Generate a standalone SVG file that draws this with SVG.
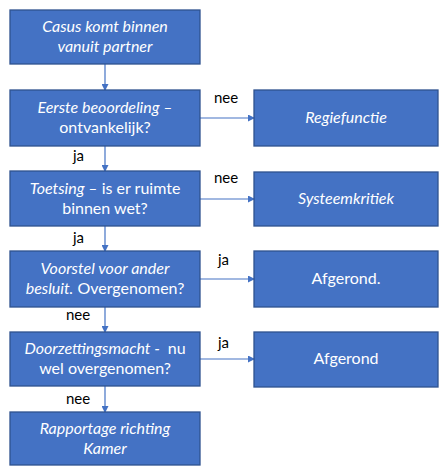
<svg xmlns="http://www.w3.org/2000/svg" width="440" height="466" viewBox="0 0 440 466">
<style>
.box{fill:#4472C4;stroke:#2F528F;stroke-width:1.3}
.t{fill:#fff;font-family:Lato,"Liberation Sans",sans-serif;font-size:16px;text-anchor:middle;white-space:pre}
.i{font-style:italic}
.lbl{fill:#000;font-family:Lato,"Liberation Sans",sans-serif;font-size:15px}
.c{stroke:#4472C4;stroke-width:1.2;fill:none}
</style>
<defs>
<marker id="ah" markerWidth="7" markerHeight="7" refX="6" refY="3.5" orient="auto" markerUnits="userSpaceOnUse">
<path d="M0,0 L7,3.5 L0,7 Z" fill="#4472C4"/>
</marker>
</defs>
<g id="connectors">
<line class="c" x1="105" y1="64" x2="105" y2="90" marker-end="url(#ah)"/>
<line class="c" x1="105" y1="146" x2="105" y2="171" marker-end="url(#ah)"/>
<line class="c" x1="105" y1="226" x2="105" y2="251" marker-end="url(#ah)"/>
<line class="c" x1="105" y1="307" x2="105" y2="332" marker-end="url(#ah)"/>
<line class="c" x1="105" y1="386" x2="105" y2="412" marker-end="url(#ah)"/>
<line class="c" x1="200" y1="118" x2="254" y2="118" marker-end="url(#ah)"/>
<line class="c" x1="200" y1="199" x2="254" y2="199" marker-end="url(#ah)"/>
<line class="c" x1="200" y1="279" x2="254" y2="279" marker-end="url(#ah)"/>
<line class="c" x1="200" y1="359" x2="254" y2="359" marker-end="url(#ah)"/>
<text class="lbl" x="214" y="103">nee</text>
<text class="lbl" x="214" y="183">nee</text>
<text class="lbl" x="218" y="265">ja</text>
<text class="lbl" x="218" y="348">ja</text>
<text class="lbl" x="73" y="161">ja</text>
<text class="lbl" x="73" y="243">ja</text>
<text class="lbl" x="66" y="320">nee</text>
<text class="lbl" x="66" y="404">nee</text>
</g>
<g id="n1">
<rect class="box" x="10" y="10" width="190" height="54"/>
<text class="t i" x="105" y="32">Casus komt binnen</text>
<text class="t i" x="105" y="52">vanuit partner</text>
</g>
<g id="n2">
<rect class="box" x="10" y="90" width="190" height="56"/>
<text class="t i" x="105" y="113">Eerste beoordeling –</text>
<text class="t" x="105" y="133">ontvankelijk?</text>
</g>
<g id="n3">
<rect class="box" x="10" y="171" width="190" height="55"/>
<text class="t" x="105" y="194"><tspan class="i">Toetsing –</tspan> is er ruimte</text>
<text class="t" x="105" y="214">binnen wet?</text>
</g>
<g id="n4">
<rect class="box" x="10" y="251" width="190" height="56"/>
<text class="t i" x="105" y="274">Voorstel voor ander</text>
<text class="t" x="105" y="294"><tspan class="i">besluit.</tspan> Overgenomen?</text>
</g>
<g id="n5">
<rect class="box" x="10" y="332" width="190" height="54"/>
<text class="t" x="105" y="354"><tspan class="i">Doorzettingsmacht - </tspan> nu</text>
<text class="t" x="105" y="374">wel overgenomen?</text>
</g>
<g id="n6">
<rect class="box" x="10" y="412" width="190" height="53"/>
<text class="t i" x="105" y="434">Rapportage richting</text>
<text class="t i" x="105" y="454">Kamer</text>
</g>
<g id="r1">
<rect class="box" x="254" y="90" width="184" height="56"/>
<text class="t i" x="346" y="123">Regiefunctie</text>
</g>
<g id="r2">
<rect class="box" x="254" y="172" width="184" height="54"/>
<text class="t i" x="346" y="204">Systeemkritiek</text>
</g>
<g id="r3">
<rect class="box" x="254" y="251" width="184" height="56"/>
<text class="t" x="346" y="284">Afgerond.</text>
</g>
<g id="r4">
<rect class="box" x="254" y="332" width="184" height="55"/>
<text class="t" x="346" y="364">Afgerond</text>
</g>
</svg>
